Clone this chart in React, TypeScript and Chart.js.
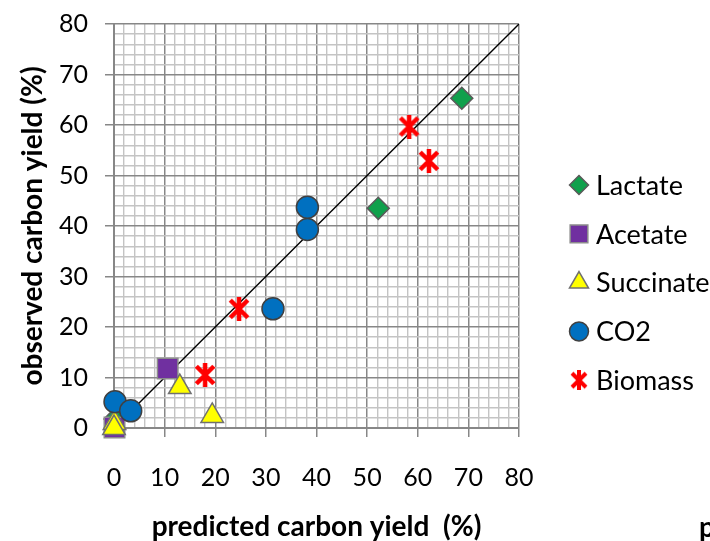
import React, { useEffect, useRef } from 'react';
import { Chart, registerables } from 'chart.js';
import { drawPoint } from 'chart.js/helpers';

Chart.register(...registerables);

// ---- data ----
const seriesNames = ['Lactate', 'Acetate', 'Succinate', 'CO2', 'Biomass'];
const lactateX = [0.2, 68.7, 52.2];
const lactateY = [1.8, 65.3, 43.5];
const acetateX = [10.6, 0.1];
const acetateY = [11.8, 0.1];
const succinateX = [13.0, 19.4, 0.1, 0.0];
const succinateY = [8.1, 2.4, 1.0, 0.0];
const co2X = [0.2, 3.3, 31.4, 38.2, 38.2];
const co2Y = [5.2, 3.4, 23.6, 39.3, 43.7];
const biomassX = [58.3, 62.2, 24.7, 18.0];
const biomassY = [59.7, 52.9, 23.6, 10.5];
const diagonalX = [0, 80];
const diagonalY = [0, 80];
const axisMin = 0;
const axisMax = 80;
const minorStep = 2;
const majorStep = 10;
const xTitle = 'predicted carbon yield  (%)';
const yTitle = 'observed carbon yield (%)';

const FONT = 'Lato, "Noto Sans", sans-serif';
const MAJOR = '#878787';
const MINOR = '#c4c4c4';
const EDGE = '#595959';

function pts(xs: number[], ys: number[]) {
  return xs.map((x, i) => ({ x, y: ys[i] }));
}

function makeStar(size: number, lw: number): HTMLCanvasElement {
  const c = document.createElement('canvas');
  c.width = size;
  c.height = size;
  const g = c.getContext('2d')!;
  g.strokeStyle = '#ff0000';
  g.lineWidth = lw;
  g.lineCap = 'butt';
  const m = lw / 2;
  const s = size - m;
  g.beginPath();
  g.moveTo(m + 1, m + 1);
  g.lineTo(s - 1, s - 1);
  g.moveTo(s - 1, m + 1);
  g.lineTo(m + 1, s - 1);
  g.moveTo(size / 2, 0);
  g.lineTo(size / 2, size);
  g.stroke();
  return c;
}

export default function App() {
  const ref = useRef<HTMLCanvasElement | null>(null);

  useEffect(() => {
    document.body.style.margin = '0';
    const canvas = ref.current!;
    const starPlot = makeStar(24, 4.5);
    const starLegend = makeStar(20, 4);

    const datasets: any[] = [
      {
        label: 'diag',
        data: pts(diagonalX, diagonalY),
        showLine: true,
        borderColor: '#000000',
        borderWidth: 1.4,
        pointRadius: 0,
        order: 10,
      },
      {
        label: seriesNames[0],
        data: pts(lactateX, lactateY),
        pointStyle: 'rectRot',
        pointRadius: 11,
        backgroundColor: '#10a04c',
        borderColor: EDGE,
        borderWidth: 1.5,
        order: 5,
        clip: false,
        legendRadius: 9.5,
      },
      {
        label: seriesNames[1],
        data: pts(acetateX, acetateY),
        pointStyle: 'rect',
        pointRadius: 14.5,
        backgroundColor: '#7030a0',
        borderColor: '#8c8c8c',
        borderWidth: 1.5,
        order: 4,
        clip: false,
        legendRadius: 12.5,
      },
      {
        label: seriesNames[2],
        data: pts(succinateX, succinateY),
        pointStyle: 'triangle',
        pointRadius: 13,
        backgroundColor: '#ffff00',
        borderColor: '#707070',
        borderWidth: 1.5,
        order: 3,
        clip: false,
        legendRadius: 11,
      },
      {
        label: seriesNames[3],
        data: pts(co2X, co2Y),
        pointStyle: 'circle',
        pointRadius: 11,
        backgroundColor: '#0070c0',
        borderColor: '#404040',
        borderWidth: 1.5,
        order: 2,
        clip: false,
        legendRadius: 9.5,
      },
      {
        label: seriesNames[4],
        data: pts(biomassX, biomassY),
        pointStyle: starPlot,
        pointRadius: 11,
        backgroundColor: '#ff0000',
        borderColor: '#ff0000',
        borderWidth: 0,
        order: 1,
        clip: false,
        legendImage: starLegend,
      },
    ];

    const legendPlugin = {
      id: 'sideLegend',
      afterDraw(chart: any) {
        const { ctx, chartArea } = chart;
        const mx = chartArea.right + 60;
        const tx = chartArea.right + 77;
        const top = chartArea.top + 161;
        const gap = 48.8;
        chart.data.datasets.slice(1).forEach((ds: any, i: number) => {
          const y = top + i * gap;
          ctx.save();
          ctx.fillStyle = ds.backgroundColor;
          ctx.strokeStyle = ds.borderColor;
          ctx.lineWidth = ds.borderWidth;
          if (ds.legendImage) {
            drawPoint(ctx, { pointStyle: ds.legendImage, radius: 9, borderWidth: 0, rotation: 0 } as any, mx, y);
          } else {
            drawPoint(ctx, { pointStyle: ds.pointStyle, radius: ds.legendRadius, borderWidth: ds.borderWidth, rotation: 0 } as any, mx, y);
          }
          ctx.fillStyle = '#000000';
          ctx.font = `27px ${FONT}`;
          ctx.textAlign = 'left';
          ctx.textBaseline = 'middle';
          ctx.fillText(ds.label, tx, y + 1);
          ctx.restore();
        });
        // clipped fragment of neighbouring text at bottom-right
        ctx.save();
        ctx.fillStyle = '#000000';
        ctx.font = `bold 28px ${FONT}`;
        ctx.textAlign = 'left';
        ctx.textBaseline = 'alphabetic';
        ctx.fillText('p', 699, 537);
        ctx.restore();
      },
    };

    const isMajor = (c: any) => c.tick && Math.round(c.tick.value) % majorStep === 0;
    const tickCb = (v: any) => (Math.round(Number(v)) % majorStep === 0 ? String(v) : '');

    const chart = new Chart(canvas, {
      type: 'scatter',
      data: { datasets },
      options: {
        responsive: false,
        animation: false,
        events: [],
        layout: { padding: { left: 0, top: 24, right: 191, bottom: 0 } },
        plugins: {
          legend: { display: false },
          tooltip: { enabled: false },
        },
        scales: {
          x: {
            type: 'linear',
            min: axisMin,
            max: axisMax,
            afterFit: (s: any) => {
              s.height = 113;
              s.paddingLeft = 0;
              s.paddingRight = 0;
            },
            ticks: {
              stepSize: minorStep,
              autoSkip: false,
              maxRotation: 0,
              callback: tickCb,
              color: '#000000',
              font: { family: FONT, size: 25 },
              padding: 26,
            },
            grid: {
              color: (c: any) => (isMajor(c) ? MAJOR : MINOR),
              lineWidth: (c: any) => (isMajor(c) ? 1.5 : 1.4),
              tickColor: (c: any) => (isMajor(c) ? MAJOR : 'rgba(0,0,0,0)'),
              tickLength: 9,
            },
            border: { color: MAJOR, width: 2 },
            title: {
              display: true,
              text: xTitle,
              color: '#000000',
              font: { family: FONT, size: 28, weight: 'bold', lineHeight: 1 },
              padding: { top: 0, bottom: 0 },
            },
          },
          y: {
            type: 'linear',
            min: axisMin,
            max: axisMax,
            afterFit: (s: any) => {
              s.width = 114;
              s.paddingTop = 0;
              s.paddingBottom = 0;
            },
            ticks: {
              stepSize: minorStep,
              autoSkip: false,
              callback: tickCb,
              color: '#000000',
              font: { family: FONT, size: 25 },
              padding: 17,
            },
            grid: {
              color: (c: any) => (isMajor(c) ? MAJOR : MINOR),
              lineWidth: (c: any) => (isMajor(c) ? 1.5 : 1.4),
              tickColor: (c: any) => (isMajor(c) ? MAJOR : 'rgba(0,0,0,0)'),
              tickLength: 9,
            },
            border: { color: MAJOR, width: 2 },
            title: {
              display: true,
              text: yTitle,
              color: '#000000',
              font: { family: FONT, size: 28, weight: 'bold', lineHeight: 1 },
              padding: { top: 19, bottom: 0 },
            },
          },
        },
      },
      plugins: [legendPlugin],
    } as any);

    return () => chart.destroy();
  }, []);

  return (
    <div style={{ width: 710, height: 541 }}>
      <canvas ref={ref} width={710} height={541} style={{ display: 'block' }} />
    </div>
  );
}
